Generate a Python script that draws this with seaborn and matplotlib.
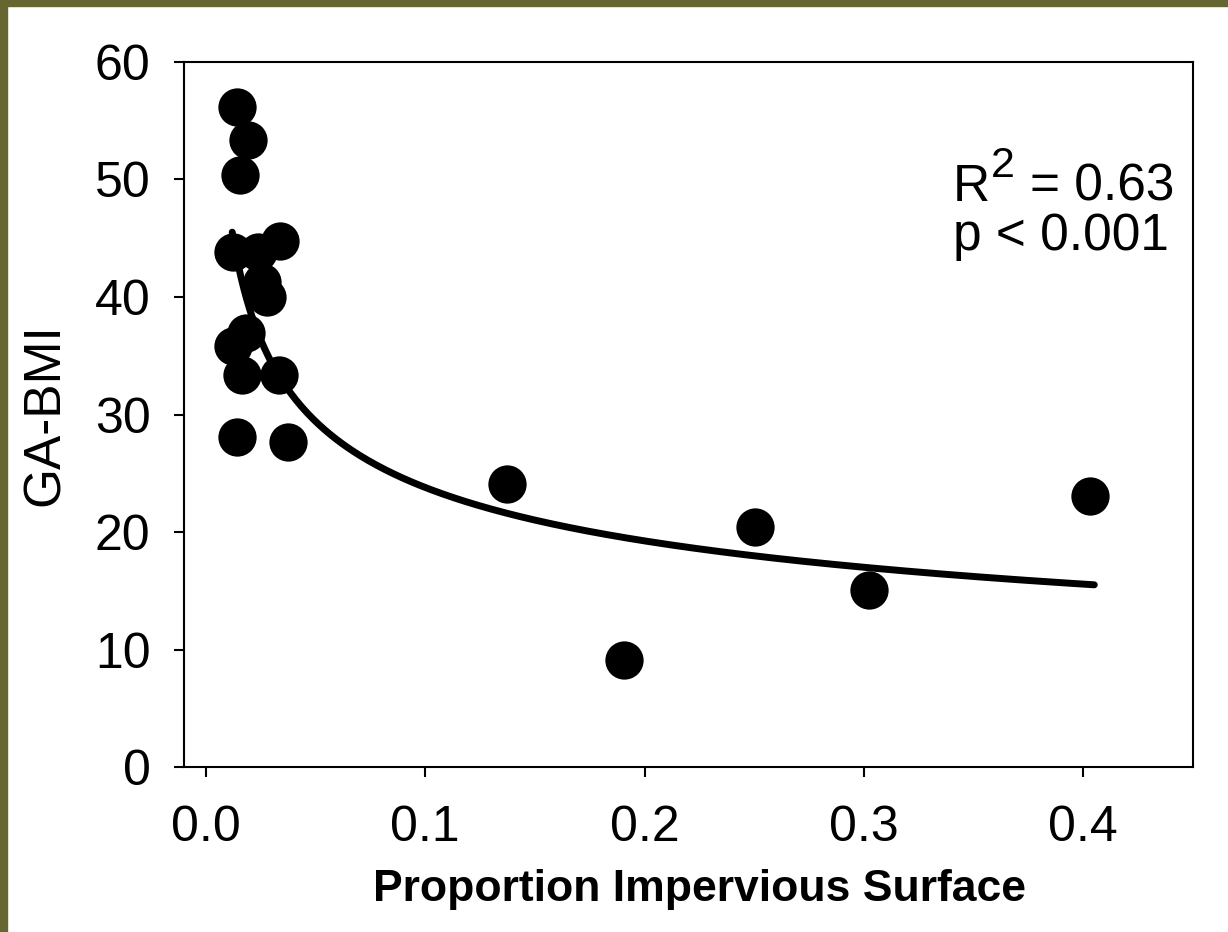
import numpy as np
import pandas as pd
import seaborn as sns
import matplotlib.pyplot as plt
from matplotlib.patches import Rectangle

# data
impervious = [0.0141, 0.0190, 0.0155, 0.0124, 0.0236, 0.0340, 0.0255, 0.0277,
              0.0185, 0.0124, 0.0165, 0.0332, 0.0140, 0.0374,
              0.1373, 0.1905, 0.2505, 0.3023, 0.4032]
ga_bmi = [56.2, 53.4, 50.4, 43.8, 43.8, 44.8, 41.3, 40.0,
          36.9, 35.8, 33.4, 33.4, 28.1, 27.7,
          24.1, 9.1, 20.4, 15.1, 23.1]

# power fit y = a * x^b shown on the chart
fit_a = 11.76
fit_b = -0.306
fit_range = (0.012, 0.405)

df = pd.DataFrame({"x": impervious, "y": ga_bmi})

sns.set_style("ticks")
plt.rcParams["font.family"] = ["Liberation Sans", "DejaVu Sans"]
plt.rcParams["text.color"] = "black"
plt.rcParams["axes.labelcolor"] = "black"

fig = plt.figure(figsize=(12.28, 9.32), dpi=100)
ax = fig.add_axes([0.1498, 0.177, 0.8217, 0.7565])

# olive frame on top and left edge
fig.patches.append(Rectangle((0, 1 - 6 / 932), 1, 6 / 932, transform=fig.transFigure,
                             color="#666633", zorder=0))
fig.patches.append(Rectangle((0, 0), 7 / 1228, 1, transform=fig.transFigure,
                             color="#666633", zorder=0))

xf = np.linspace(fit_range[0], fit_range[1], 300)
yf = fit_a * xf ** fit_b
ax.plot(xf, yf, color="black", lw=5, zorder=2)

sns.scatterplot(data=df, x="x", y="y", color="black", s=760, edgecolor="black",
                linewidth=0, ax=ax, zorder=3)

ax.set_xlim(-0.01, 0.45)
ax.set_ylim(0, 60)
ax.set_xticks([0.0, 0.1, 0.2, 0.3, 0.4])
ax.set_xticklabels(["0.0", "0.1", "0.2", "0.3", "0.4"])
ax.set_yticks(range(0, 61, 10))

for s in ax.spines.values():
    s.set_linewidth(1.5)
    s.set_color("black")
ax.tick_params(axis="both", direction="out", length=7, width=1.5, labelsize=36,
               colors="black")
ax.tick_params(axis="x", pad=20)
ax.tick_params(axis="y", pad=17)

ax.set_xlabel("Proportion Impervious Surface", fontsize=32, fontweight="bold", color="black")
ax.set_ylabel("GA-BMI", fontsize=37, color="black")
ax.xaxis.set_label_coords(0.511, -0.1447)
ax.yaxis.set_label_coords(-0.113, 0.5)

# stats text, big superscript like the original
ax.text(0.3405, 48.2, "R", fontsize=37, color="black")
ax.text(0.3580, 50.2, "2", fontsize=31, color="black")
ax.text(0.3755, 48.2, "= 0.63", fontsize=37, color="black")
ax.text(0.3405, 44.0, "p < 0.001", fontsize=37, color="black")

fig.savefig("out.png", dpi=100)
